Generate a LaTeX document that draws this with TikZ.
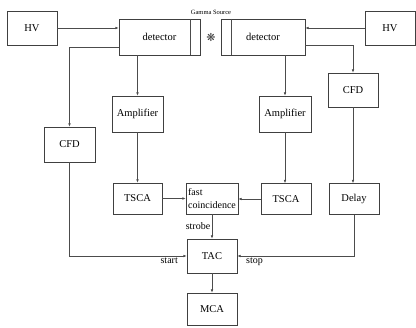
\documentclass[tikz,border=0pt]{standalone}
\usepackage{fontspec}
\setmainfont{Liberation Serif}
\newfontfamily\symfont{DejaVu Sans}
\usepackage{tikz}
\usetikzlibrary{arrows.meta}

\tikzset{
  blk/.style={draw=black!75, line width=0.7pt, fill=white, inner sep=1pt,
    minimum width=50pt, minimum height=34pt, font=\fontsize{10.5}{12}\selectfont},
  wire/.style={draw=black!70, line width=0.6pt},
  sig/.style={wire, -{Latex[length=3.2pt,width=2.6pt]}},
  lbl/.style={font=\fontsize{10}{11}\selectfont, inner sep=1.5pt}
}

\begin{document}
\begin{tikzpicture}[x=1pt,y=-1pt]
  \useasboundingbox (0,0) rectangle (416,328);

  % top row
  \node[blk] (hvL) at (32,28) {HV};
  \node[blk, minimum width=81pt, minimum height=36pt] (detL) at (159.5,37) {detector};
  \node[blk, minimum width=84pt, minimum height=36pt] (detR) at (263,37) {detector};
  \node[blk] (hvR) at (390,28) {HV};
  \draw[wire] (190,19) -- (190,55);
  \draw[wire] (231,19) -- (231,55);
  \node[font=\fontsize{6.5}{7}\selectfont, inner sep=0pt] (gamma) at (211,12) {Gamma Source};
  \node[font=\symfont\fontsize{11}{12}\selectfont, text=black!75, inner sep=0pt] (src) at (211,37) {❋};

  % middle
  \node[blk, minimum width=51pt, minimum height=35pt] (cfdL) at (69.5,144.5) {CFD};
  \node[blk, minimum width=51pt, minimum height=36pt] (ampL) at (137.5,114) {Amplifier};
  \node[blk, minimum width=52pt, minimum height=36pt] (ampR) at (285,114) {Amplifier};
  \node[blk] (cfdR) at (353,90) {CFD};

  % lower row
  \node[blk, minimum width=49pt, minimum height=31pt] (tscaL) at (137.5,198.5) {TSCA};
  \node[blk, minimum width=52pt, minimum height=31pt, inner sep=0pt, align=left,
    font=\fontsize{10}{13}\selectfont] (fc) at (212,198.5)
    {fast\\coincidence};
  \node[blk, minimum width=50pt, minimum height=31pt] (tscaR) at (286,199) {TSCA};
  \node[blk, minimum width=50pt, minimum height=31pt] (delay) at (354,199) {Delay};
  \node[blk] (tac) at (212,256) {TAC};
  \node[blk, minimum height=32pt] (mca) at (212,309) {MCA};

  % connections
  \draw[sig] (hvL.east) -- (hvL.east -| detL.west);
  \draw[sig] (hvR.west) -- (hvR.west -| detR.east);
  \draw[sig] ([yshift=-10pt]detL.west) -| (cfdL.north);
  \draw[sig] ([yshift=-8pt]detR.east) -| (cfdR.north);
  \draw[sig] (ampL.north |- detL.south) -- (ampL.north);
  \draw[sig] (ampR.north |- detR.south) -- (ampR.north);
  \draw[sig] (ampL) -- (tscaL);
  \draw[sig] (ampR.south) -- (ampR.south |- tscaR.north);
  \draw[sig] (cfdR.south) -- (cfdR.south |- delay.north);
  \draw[sig] (tscaL.east) -- (fc.west |- tscaL.east);
  \draw[sig] (tscaR.west) -- (fc.east |- tscaR.west);
  \draw[sig] (fc) -- node[lbl, left] {strobe} (tac);
  \draw[sig] (cfdL.south) |- node[lbl, pos=0.97, below left] {start} (tac.west);
  \draw[sig] (delay.south) |- node[lbl, pos=0.97, below right] {stop} (tac.east);
  \draw[sig] (tac) -- (mca);
\end{tikzpicture}
\end{document}
